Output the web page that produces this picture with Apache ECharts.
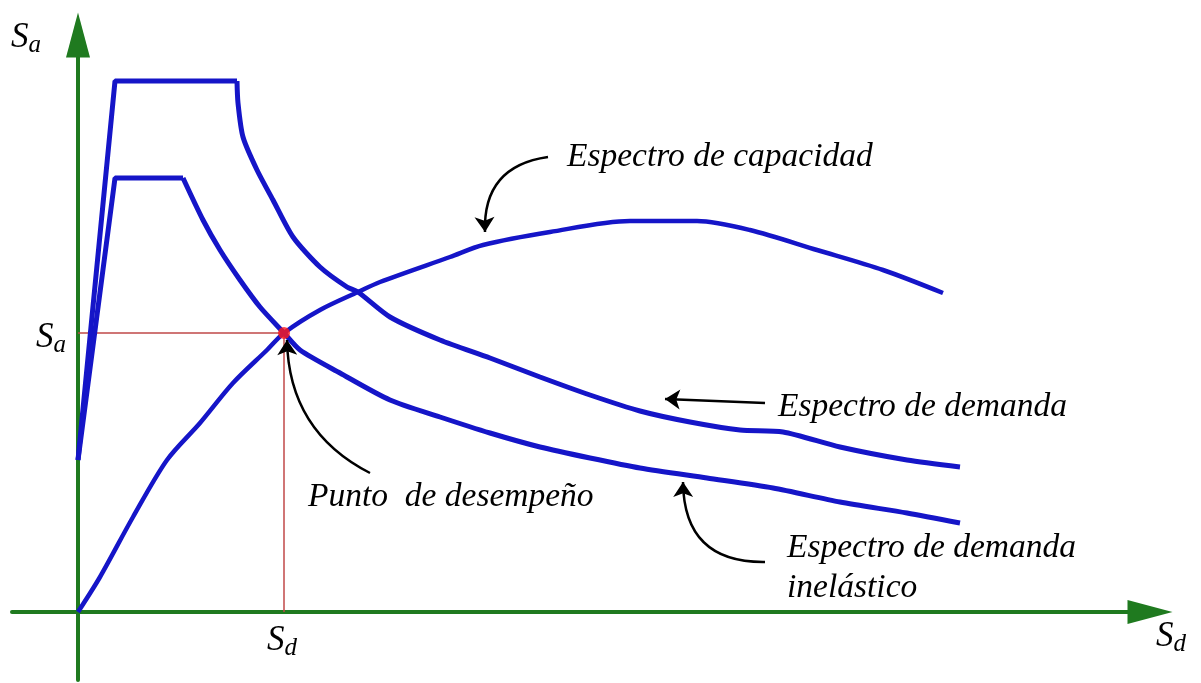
<!DOCTYPE html>
<html>
<head>
<meta charset="utf-8">
<script src="https://cdn.jsdelivr.net/npm/echarts@6/dist/echarts.min.js"></script>
<style>
  html, body { margin: 0; padding: 0; background: #fff; }
  #main { width: 1201px; height: 683px; }
</style>
</head>
<body>
<div id="main"></div>
<script>
// valores (unidades: Sd horizontal, Sa vertical)
var demandaElastico = [[0,152],[37,531],[159,531],[160,509],[165,475],[179,442],[195,412],[215,375],[242,345],[269,325],[280,320],[312,295],[362,272],[412,254],[462,235],[512,217],[562,201],[612,190],[662,182],[705,180],[762,165],[829,152],[882,145]];
var demandaInelastico = [[0,152],[37,434],[105,434],[125,392],[142,362],[162,332],[182,305],[206,279],[222,262],[262,239],[312,212],[362,195],[412,179],[462,165],[512,154],[562,144],[629,134],[695,124],[762,110],[829,99],[882,89]];
var capacidad = [[0,0],[22,35],[55,95],[89,152],[122,189],[155,229],[189,262],[206,279],[242,302],[280,320],[302,330],[372,355],[405,367],[472,380],[552,391],[619,391],[672,382],[739,362],[805,342],[865,319]];
var puntoDesempeno = [206,279];

// flechas de las anotaciones: [inicio, fin, curvatura]
var flechas = [
  [[470,455],[407,380],-0.45],   // espectro de capacidad
  [[687,209],[587,213],0],       // espectro de demanda
  [[687,50],[605,130],0.5],      // demanda inelastico
  [[292,139],[209,272],0.3]      // punto de desempeño
];

var azul = '#1515c8';
var verde = '#1f7a1f';
var fuente = 'Liberation Serif';

var myChart = echarts.init(document.getElementById('main'));

function etiquetaS(sub) {
  return {
    text: '{s|S}{b|' + sub + '}',
    rich: {
      s: {fontFamily: fuente, fontStyle: 'italic', fontSize: 35, color: '#000'},
      b: {fontFamily: fuente, fontStyle: 'italic', fontSize: 25, color: '#000', padding: [14, 0, 0, 0]}
    },
    verticalAlign: 'middle'
  };
}

function texto(x, y, t) {
  return {
    type: 'text', x: x, y: y, z: 100,
    style: {text: t, fontFamily: fuente, fontStyle: 'italic', fontSize: 33.5, fill: '#000', verticalAlign: 'middle'}
  };
}

// tramo recto (subida + meseta) y rama descendente suavizada
function espectro(nombre, datos, corte) {
  return [
    {name: nombre, type: 'line', showSymbol: false, data: datos.slice(0, corte + 1),
      lineStyle: {color: azul, width: 5}},
    {name: nombre, type: 'line', showSymbol: false, smooth: 0.25, data: datos.slice(corte),
      lineStyle: {color: azul, width: 5}}
  ];
}

var option = {
  animation: false,
  grid: {left: 12, right: 51, top: 35, bottom: 3},
  xAxis: {
    type: 'value', min: -66, max: 1072,
    splitLine: {show: false}, axisTick: {show: false}, axisLabel: {show: false},
    axisLine: {show: true, onZero: true, symbol: ['none', 'triangle'], symbolSize: [24, 45],
      lineStyle: {color: verde, width: 4}}
  },
  yAxis: {
    type: 'value', min: -68, max: 577,
    splitLine: {show: false}, axisTick: {show: false}, axisLabel: {show: false},
    axisLine: {show: true, onZero: true, symbol: ['none', 'triangle'], symbolSize: [24, 45],
      lineStyle: {color: verde, width: 4}}
  },
  graphic: [
    {type: 'text', x: 11, y: 38, z: 100, style: etiquetaS('a')},
    {type: 'text', x: 36, y: 338, z: 100, style: etiquetaS('a')},
    {type: 'text', x: 267, y: 641, z: 100, style: etiquetaS('d')},
    {type: 'text', x: 1156, y: 637, z: 100, style: etiquetaS('d')},
    texto(567, 157, 'Espectro de capacidad'),
    texto(778, 407, 'Espectro de demanda'),
    texto(308, 497, 'Punto  de desempeño'),
    texto(787, 548, 'Espectro de demanda'),
    texto(787, 588, 'inelástico')
  ],
  series: [
    {
      name: 'ref', type: 'line', showSymbol: false, silent: true,
      data: [[0, puntoDesempeno[1]], puntoDesempeno, [puntoDesempeno[0], 0]],
      lineStyle: {color: '#c04848', width: 1.5}
    }
  ].concat(
    espectro('Espectro de demanda', demandaElastico, 2),
    espectro('Espectro de demanda inelástico', demandaInelastico, 2),
    [
      {
        name: 'Espectro de capacidad', type: 'line', showSymbol: false, smooth: 0.3,
        data: capacidad, lineStyle: {color: azul, width: 4.5}
      },
      {
        name: 'Punto de desempeño', type: 'scatter', symbolSize: 12,
        data: [puntoDesempeno], itemStyle: {color: '#ff1a1a'}, z: 5
      },
      {
        name: 'flechas', type: 'lines', coordinateSystem: 'cartesian2d', z: 6,
        symbol: ['none', 'arrow'], symbolSize: 15,
        lineStyle: {color: '#000', width: 2.5, opacity: 1},
        data: flechas.map(function (f) {
          return {coords: [f[0], f[1]], lineStyle: {curveness: f[2]}};
        })
      }
    ]
  )
};

myChart.setOption(option);
</script>
</body>
</html>
